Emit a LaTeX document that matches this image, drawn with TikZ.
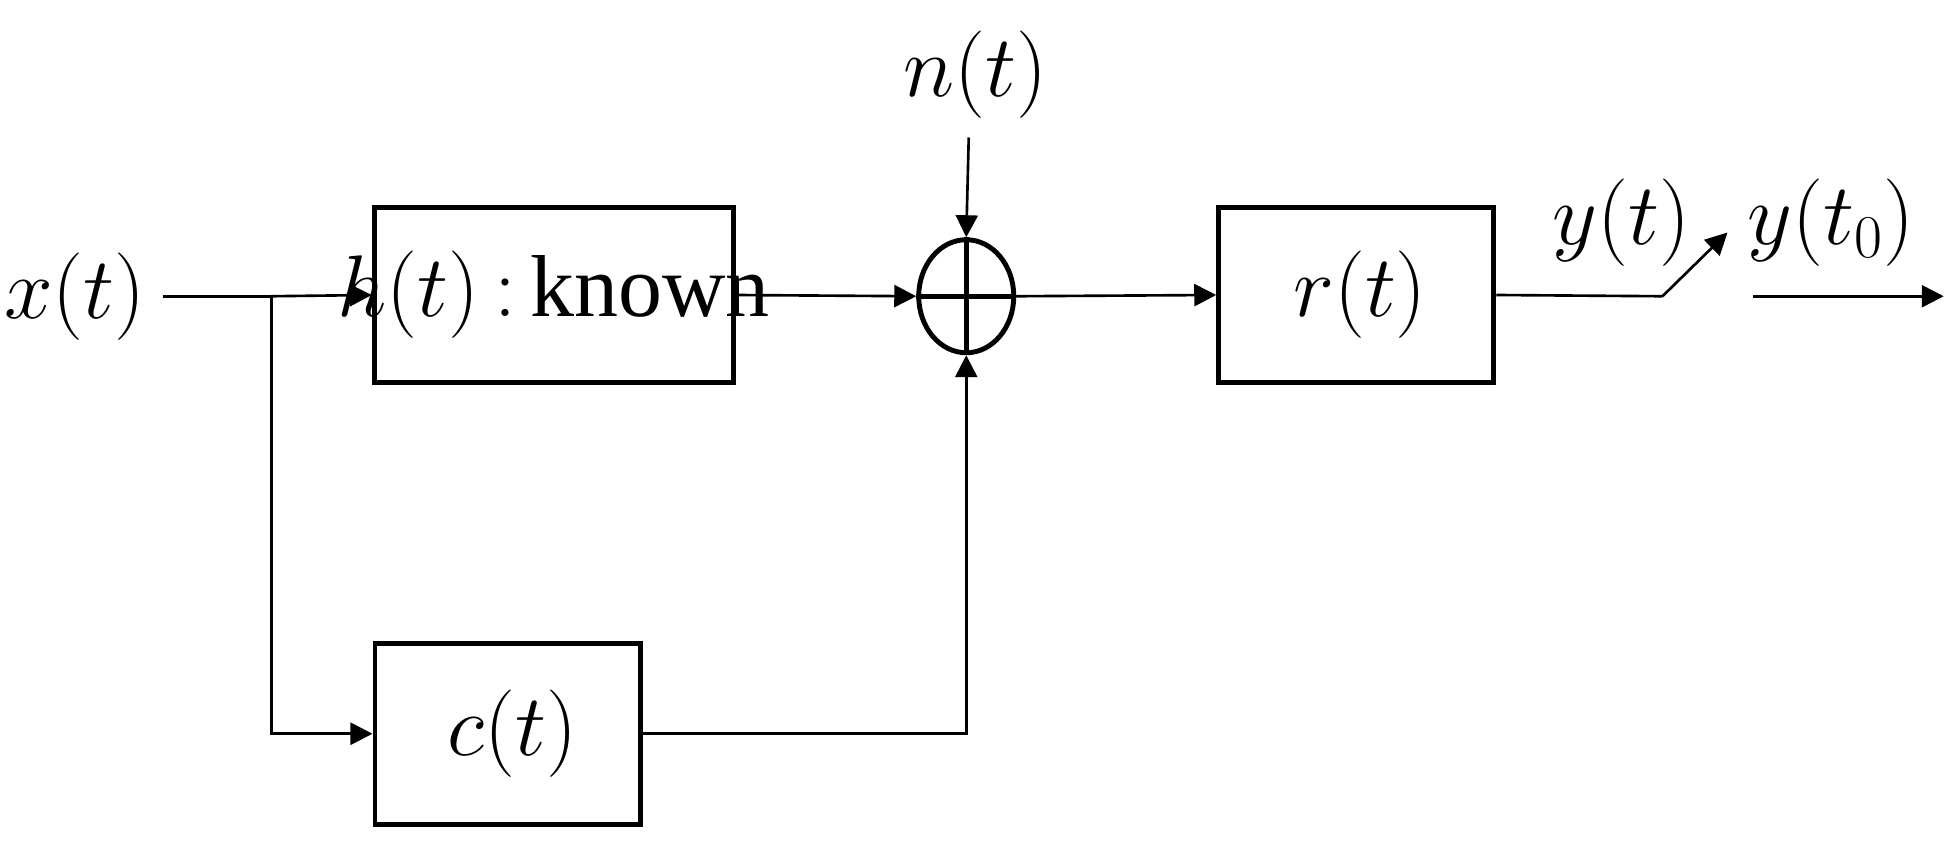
\documentclass[tikz,border=0pt]{standalone}
\usepackage{tikz}
\usepackage{fontspec}
\setmainfont{Liberation Serif}
\usetikzlibrary{arrows.meta,shapes.geometric}

\begin{document}
\begin{tikzpicture}[x=0.0125cm,y=-0.0125cm,>={Triangle[length=0.22cm,width=0.22cm]},
  line width=0.75pt,
  blk/.style={draw,line width=1.4pt,inner sep=0pt},
  lbl/.style={font=\fontsize{25}{30}\selectfont}]
\useasboundingbox (0,0) rectangle (1568,681);
\node[lbl] (x) at (60,237) {$x(t)$};
\node[blk,minimum width=3.59cm,minimum height=1.75cm] (h) at (443,236) {};
\node[lbl] at (443,236) {$h(t)\,{:}\,$known};
\node[blk,minimum width=2.65cm,minimum height=1.81cm] (c) at (406,587) {};
\node[lbl] at (410,587) {$c(t)$};
\node[draw,ellipse,line width=1.4pt,minimum width=0.95cm,minimum height=1.13cm,inner sep=0pt] (s) at (773,237) {};
\draw[line width=1.4pt] (s.north) -- (s.south) (s.west) -- (s.east);
\node[lbl] (n) at (780,60) {$n(t)$};
\coordinate (ntop) at (775,110);
\node[blk,minimum width=2.75cm,minimum height=1.75cm] (r) at (1085,236) {};
\node[lbl] at (1088,236) {$r(t)$};
\coordinate (b) at (217,237);
\coordinate (sw1) at (1330,237);
\coordinate (sw2) at (1382,186);
\coordinate (o1) at (1402,237);
\coordinate (o2) at (1555,237);
\node[lbl] at (1297,178) {$y(t)$};
\node[lbl] at (1465,178) {$y(t_0)$};

\draw (130,237) -- (b);
\draw[->] (b) -- (h.west);
\draw[->] (b) |- (c.west);
\draw[->] (h.east) -- (s.west);
\draw[->] (ntop) -- (s.north);
\draw[->] (c.east) -| (s.south);
\draw[->] (s.east) -- (r.west);
\draw (r.east) -- (sw1);
\draw[->] (sw1) -- (sw2);
\draw[->] (o1) -- (o2);
\end{tikzpicture}
\end{document}
